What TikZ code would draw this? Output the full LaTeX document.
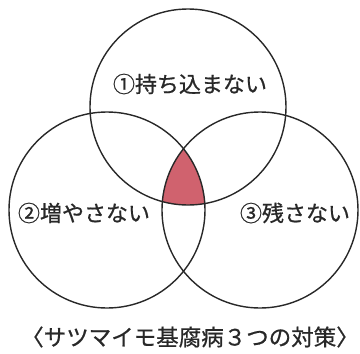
\documentclass[tikz,border=0pt]{standalone}
\usepackage{fontspec}
\newfontfamily\jp[FakeBold=0.7]{Noto Sans CJK JP}
\definecolor{core}{RGB}{208,98,110}
\definecolor{ink}{RGB}{40,40,40}
\begin{document}
\begin{tikzpicture}[x=1pt,y=-1pt,
  ring/.style={circle, draw=ink, line width=1.4pt, minimum size=196pt, inner sep=0},
  lbl/.style={font=\jp\fontsize{22}{24}\selectfont, text=ink, inner sep=0},
  caption/.style={lbl, font=\jp\fontsize{22.5}{24}\selectfont}]
\useasboundingbox[fill=white] (0,0) rectangle (360,354);
\coordinate (T) at (188,107);
\coordinate (L) at (107,210);
\coordinate (R) at (260,210);
\begin{scope}
  \clip (T) circle[radius=98];
  \clip (L) circle[radius=98];
  \fill[core] (R) circle[radius=98];
\end{scope}
\node[ring] (ct) at (T) {};
\node[ring] (cl) at (L) {};
\node[ring] (cr) at (R) {};
\node[lbl] (t1) at (190,84) {①持ち込まない};
\node[lbl] (t2) at (84,213) {②増やさない};
\node[lbl] (t3) at (295,213) {③残さない};
\node[caption] (cap) at (190,337) {〈サツマイモ基腐病３つの対策〉};
\end{tikzpicture}
\end{document}
